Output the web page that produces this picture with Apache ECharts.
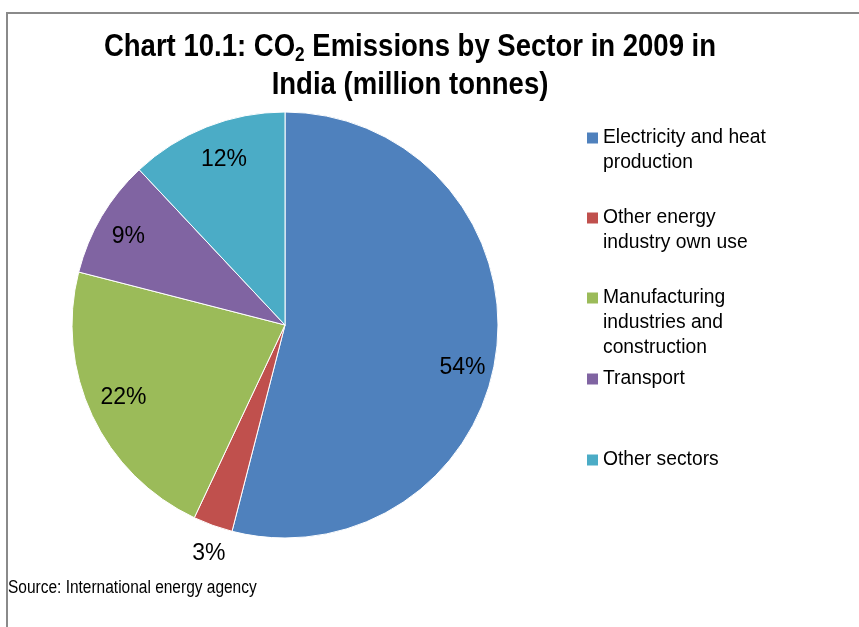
<!DOCTYPE html>
<html>
<head>
<meta charset="utf-8">
<script src="https://cdn.jsdelivr.net/npm/echarts@6/dist/echarts.min.js"></script>
<style>
  html, body { margin: 0; padding: 0; background: #fff; }
  #chart { width: 859px; height: 627px; }
</style>
</head>
<body>
<div id="chart"></div>
<script>
// CO2 emissions by sector, India 2009 (share of total, %)
const sectors = [
  'Electricity and heat production',
  'Other energy industry own use',
  'Manufacturing industries and construction',
  'Transport',
  'Other sectors'
];
const shares = [54, 3, 22, 9, 12];
const colors = ['#4F81BD', '#C0504D', '#9BBB59', '#8064A2', '#4BACC6'];

// legend wording broken over lines
const legendLines = [
  ['Electricity and heat', 'production'],
  ['Other energy', 'industry own use'],
  ['Manufacturing', 'industries and', 'construction'],
  ['Transport'],
  ['Other sectors']
];
// vertical centre of each legend swatch
const legendRows = [138, 218, 298, 379, 460];
// small nudges of the percentage labels
const labelNudge = [[-3, 20], [5, 3], [3, -5], [0, 4], [6, 4]];

const cx = 285, cy = 325, R = 213;
const LH = 25;
const FONT = 'Liberation Sans';

const chart = echarts.init(document.getElementById('chart'));

const pieData = sectors.map((name, i) => ({ name, value: shares[i] }));

// one legend per entry so each row sits at its own height;
// leading blank lines keep the swatch level with the first line of text
const legends = sectors.map((name, i) => {
  const n = legendLines[i].length;
  return {
    data: [name],
    orient: 'vertical',
    left: 587,
    top: legendRows[i] - (2 * n - 1) * LH / 2,
    padding: 0,
    itemWidth: 11,
    itemHeight: 11,
    itemGap: 0,
    icon: 'rect',
    itemStyle: { borderWidth: 0 },
    selectedMode: false,
    formatter: () => '\n'.repeat(n - 1) + legendLines[i].join('\n'),
    textStyle: {
      fontFamily: FONT,
      fontSize: 19.3,
      color: '#000',
      lineHeight: LH
    }
  };
});

const pctLabel = {
  show: true,
  position: 'inside',
  formatter: p => p.value + '%',
  fontFamily: FONT,
  fontSize: 23,
  color: '#000'
};

chart.setOption({
  animation: false,
  color: colors,
  legend: legends,
  graphic: [{
    type: 'polyline',
    shape: { points: [[7, 640], [7, 13], [870, 13]] },
    style: { stroke: '#8a8a8a', lineWidth: 2, fill: null },
    silent: true
  }, {
    // chart title (condensed bold face)
    type: 'text',
    x: 410,
    y: 28,
    scaleX: 0.86,
    silent: true,
    style: {
      text: '{t|Chart 10.1: CO}{s|2}{t| Emissions by Sector in 2009 in}\n{t|India (million tonnes)}',
      align: 'center',
      verticalAlign: 'top',
      rich: {
        t: { fontFamily: FONT, fontWeight: 'bold', fontSize: 32, lineHeight: 38, fill: '#000' },
        s: { fontFamily: FONT, fontWeight: 'bold', fontSize: 20, lineHeight: 38, fill: '#000', padding: [16, 0, 0, 0] }
      }
    }
  }, {
    type: 'text',
    x: 8,
    y: 588,
    scaleX: 0.86,
    silent: true,
    style: {
      text: 'Source: International energy agency',
      fontFamily: FONT,
      fontSize: 18,
      fill: '#000',
      align: 'left',
      verticalAlign: 'middle'
    }
  }],
  series: [{
    type: 'pie',
    center: [cx, cy],
    radius: [0, R],
    startAngle: 90,
    clockwise: true,
    data: pieData,
    label: { show: false },
    labelLine: { show: false },
    itemStyle: { borderColor: '#fff', borderWidth: 1 },
    emphasis: { disabled: true },
    silent: true
  }, {
    // ring whose mid-radius carries the in-slice percentages
    type: 'pie',
    center: [cx, cy],
    radius: [R * 0.68, R],
    startAngle: 90,
    clockwise: true,
    data: pieData.map((d, i) => ({
      name: d.name, value: d.value,
      label: { show: i !== 1, offset: labelNudge[i] }
    })),
    label: pctLabel,
    labelLine: { show: false },
    itemStyle: { color: 'rgba(0,0,0,0)' },
    emphasis: { disabled: true },
    silent: true
  }, {
    // outer ring for the label of the thin slice
    type: 'pie',
    center: [cx, cy],
    radius: [R, R * 1.22],
    startAngle: 90,
    clockwise: true,
    data: pieData.map((d, i) => ({
      name: d.name, value: d.value,
      label: { show: i === 1, offset: labelNudge[i] }
    })),
    label: pctLabel,
    labelLine: { show: false },
    itemStyle: { color: 'rgba(0,0,0,0)' },
    emphasis: { disabled: true },
    silent: true
  }]
});
</script>
</body>
</html>
